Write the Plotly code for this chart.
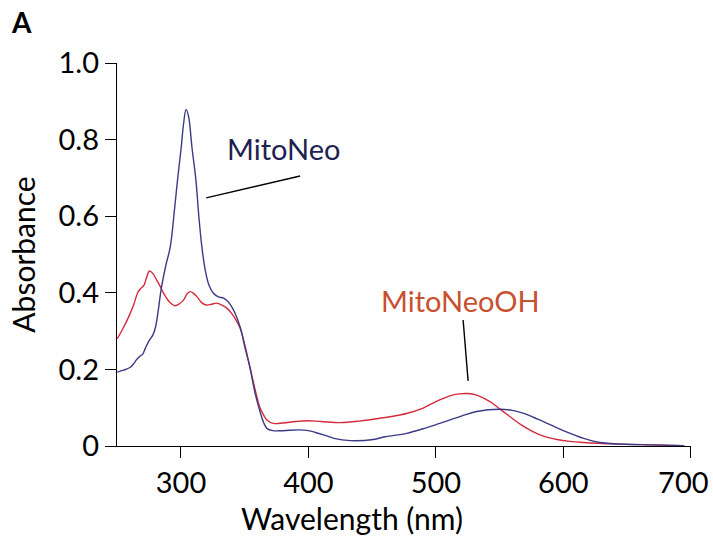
import plotly.graph_objects as go

# MitoNeo (blue) spectrum
neo_wl = [250, 255, 260, 263, 265, 268, 270, 272, 275, 278, 280, 282, 284.5, 288, 291.6, 295, 297.3,
          300.2, 302, 304, 306, 308.6, 311.7, 314, 316.4, 319, 322, 325.5, 329, 333.4, 336, 338.6,
          342, 346.5, 350, 354, 358, 362, 365, 367.4, 372, 380, 393, 400, 405, 412, 420, 433, 451,
          460, 477, 490, 503, 520, 532, 550, 560, 569, 580, 590, 600, 610, 616, 629, 640, 668, 695]
neo_abs = [0.193, 0.198, 0.205, 0.215, 0.225, 0.235, 0.24, 0.255, 0.275, 0.29, 0.31, 0.35, 0.41, 0.47,
           0.52, 0.62, 0.695, 0.78, 0.84, 0.879, 0.86, 0.78, 0.695, 0.6, 0.52, 0.46, 0.42, 0.399, 0.39,
           0.386, 0.38, 0.37, 0.35, 0.31, 0.26, 0.207, 0.14, 0.09, 0.06, 0.046, 0.04, 0.04, 0.042, 0.04,
           0.036, 0.029, 0.02, 0.014, 0.017, 0.024, 0.033, 0.045, 0.059, 0.078, 0.09, 0.096, 0.093,
           0.085, 0.07, 0.055, 0.04, 0.027, 0.02, 0.009, 0.006, 0.003, 0.001]

# MitoNeoOH (red) spectrum
oh_wl = [250, 255, 260, 263, 266, 268, 271, 273, 275.3, 278, 281, 284, 286.3, 290, 293, 295.5, 299,
         302, 305, 307.3, 310, 312.5, 316, 320, 324, 328, 332, 336, 340, 343, 346.5, 350, 354, 358,
         362, 365, 367.4, 372.6, 380, 390, 399, 410, 425, 440, 451, 465, 477, 490, 500, 511, 518,
         525, 532, 542.5, 550, 558, 567, 576.5, 585, 595, 605, 615.7, 642, 670, 694]
oh_abs = [0.28, 0.31, 0.345, 0.37, 0.40, 0.41, 0.42, 0.44, 0.457, 0.45, 0.433, 0.415, 0.399, 0.38,
          0.37, 0.366, 0.372, 0.381, 0.398, 0.403, 0.398, 0.39, 0.375, 0.368, 0.37, 0.373, 0.368,
          0.36, 0.345, 0.33, 0.307, 0.265, 0.207, 0.15, 0.1, 0.08, 0.068, 0.059, 0.06, 0.064, 0.066,
          0.064, 0.061, 0.065, 0.07, 0.077, 0.085, 0.099, 0.116, 0.131, 0.136, 0.137, 0.133,
          0.116, 0.097, 0.077, 0.055, 0.037, 0.025, 0.017, 0.012, 0.009, 0.005, 0.003, 0.001]

x_ticks = [300, 400, 500, 600, 700]
x_ticktext = ["300", "400", "500", "600", "700&nbsp;&nbsp;"]
y_ticks = [0, 0.2, 0.4, 0.6, 0.8, 1.0]
y_ticktext = ["0", "0.2", "0.4", "0.6", "0.8", "1.0"]

FONT = "Lato"
BLUE = "#3b3b85"
RED = "#d42b3c"

fig = go.Figure()
fig.add_trace(go.Scatter(x=oh_wl, y=oh_abs, mode="lines", line=dict(color=RED, width=1.4, shape="spline"),
                         name="MitoNeoOH"))
fig.add_trace(go.Scatter(x=neo_wl, y=neo_abs, mode="lines", line=dict(color=BLUE, width=1.4, shape="spline"),
                         name="MitoNeo"))

# leader lines
fig.add_shape(type="line", x0=319.8, y0=0.648, x1=393.5, y1=0.705, line=dict(color="black", width=1.4))
fig.add_shape(type="line", x0=521.4, y0=0.329, x1=525.3, y1=0.17, line=dict(color="black", width=1.4))

fig.add_annotation(x=380.2, y=0.778, text="MitoNeo", showarrow=False,
                   font=dict(family=FONT, size=29, color="#1e2250"))
fig.add_annotation(x=519, y=0.381, text="MitoNeoOH", showarrow=False,
                   font=dict(family=FONT, size=29, color="#c9502f"))
fig.add_annotation(xref="paper", yref="paper", x=-0.188, y=1.107, xanchor="left", yanchor="middle",
                   text="<b>A</b>", showarrow=False,
                   font=dict(family=FONT, size=28, color="black"))
fig.add_annotation(xref="paper", yref="paper", x=-0.182, y=-0.283, xanchor="left", yanchor="middle",
                   text="<b>C</b>", showarrow=False,
                   font=dict(family=FONT, size=28, color="black"))
# x-axis title (offset left of the axis centre as in the original)
fig.add_annotation(xref="paper", yref="paper", x=0.409, y=-0.188, xanchor="center", yanchor="middle",
                   text="Wavelength (nm)", showarrow=False,
                   font=dict(family=FONT, size=30, color="black"))

fig.update_layout(
    width=713, height=539,
    margin=dict(l=117, r=22, t=63, b=93),
    plot_bgcolor="white", paper_bgcolor="white",
    showlegend=False,
    font=dict(family=FONT, color="black"),
)

fig.update_xaxes(range=[249.8, 700.2], tickvals=x_ticks, ticktext=x_ticktext, ticks="outside", ticklen=11,
                 tickwidth=1.4, tickcolor="black", showline=True, linecolor="black", linewidth=1.4,
                 showgrid=False, zeroline=False, tickfont=dict(family=FONT, size=29), automargin=False,
                 ticklabeloverflow="allow")
fig.update_yaxes(range=[0, 1.0], tickvals=y_ticks, ticktext=y_ticktext, ticks="outside", ticklen=11,
                 tickwidth=1.4, tickcolor="black", showline=True, linecolor="black", linewidth=1.4,
                 showgrid=False, zeroline=False, tickfont=dict(family=FONT, size=29), automargin=False,
                 ticklabeloverflow="allow",
                 title=dict(text="Absorbance", font=dict(family=FONT, size=30), standoff=14))

fig.write_html("out.html", config={"displayModeBar": False},
               post_script="document.body.style.margin='0';document.body.style.overflow='hidden';")
